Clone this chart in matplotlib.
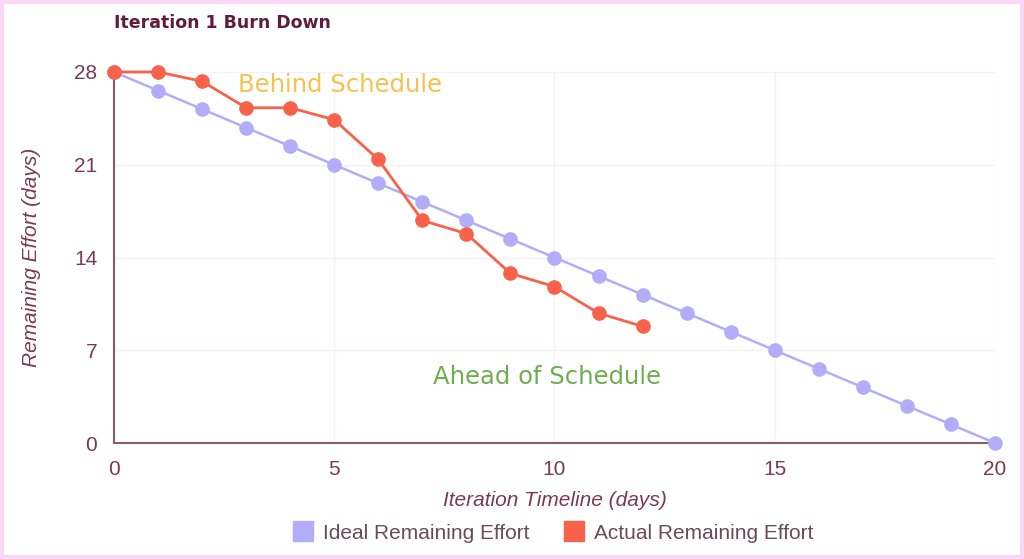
import numpy as np
import matplotlib
matplotlib.use("Agg")
import matplotlib.pyplot as plt
from matplotlib.lines import Line2D
from matplotlib.patches import Rectangle

# data
days = list(range(21))
ideal = [28, 26.6, 25.2, 23.8, 22.4, 21, 19.6, 18.2, 16.8, 15.4, 14,
         12.6, 11.2, 9.8, 8.4, 7, 5.6, 4.2, 2.8, 1.4, 0]
actual_days = list(range(13))
actual = [28, 28, 27.3, 25.3, 25.3, 24.4, 21.4, 16.8, 15.8, 12.8, 11.8, 9.8, 8.8]
yticks = [0, 7, 14, 21, 28]
xticks = [0, 5, 10, 15, 20]

narrow = ['Liberation Sans', 'DejaVu Sans']
axis_col = '#8a5a6e'
text_col = '#7a3a55'
ideal_col = '#b3acf8'
actual_col = '#f8614a'

fig = plt.figure(figsize=(10.24, 5.59), dpi=100)
fig.patch.set_facecolor('white')
fig.patches.append(Rectangle((0.002, 0.003), 0.996, 0.994, transform=fig.transFigure,
                             fill=False, edgecolor='#f8d8f4', linewidth=3))

ax = fig.add_axes([0.1113, 0.2075, 0.8604, 0.6637])
ax.plot(days, ideal, color=ideal_col, lw=1.8, marker='o', ms=9.5, clip_on=False, zorder=3)
ax.plot(actual_days, actual, color=actual_col, lw=2, marker='o', ms=9.5, clip_on=False, zorder=4)

ax.set_xlim(0, 20)
ax.set_ylim(0, 28)
ax.set_xticks(xticks)
ax.set_yticks(yticks)
ax.grid(True, color='#f7f0f7', lw=1)
ax.set_axisbelow(True)
for s in ['top', 'right']:
    ax.spines[s].set_visible(False)
for s in ['left', 'bottom']:
    ax.spines[s].set_color(axis_col)
    ax.spines[s].set_linewidth(1.5)
ax.tick_params(axis='x', length=0, pad=12, colors=text_col, labelsize=15)
ax.tick_params(axis='y', length=0, pad=12, colors=text_col, labelsize=15)
for lab in ax.get_xticklabels() + ax.get_yticklabels():
    lab.set_family(narrow)
    lab.set_color(text_col)

ax.set_xlabel('Iteration Timeline (days)', family=narrow, style='italic', fontsize=15,
              color=text_col, labelpad=9)
ax.set_ylabel('Remaining Effort (days)', family=narrow, style='italic', fontsize=15,
              color=text_col, labelpad=24)

ax.text(5.13, 27.0, 'Behind Schedule', color='#f7c14e', fontsize=17.5, ha='center', va='center')
ax.text(9.83, 5.0, 'Ahead of Schedule', color='#6fae4e', fontsize=17.5, ha='center', va='center')

fig.text(0.111, 0.958, 'Iteration 1 Burn Down', fontsize=12.5, fontweight='bold',
         color='#5e1d3d', ha='left', va='center')

handles = [Line2D([], [], color=ideal_col, marker='s', ls='none', ms=14),
           Line2D([], [], color=actual_col, marker='s', ls='none', ms=14)]
fig.legend(handles, ['Ideal Remaining Effort', 'Actual Remaining Effort'],
           loc='center', bbox_to_anchor=(0.54, 0.046), ncol=2, frameon=False,
           prop={'family': narrow, 'size': 15}, labelcolor='#6b4a5a',
           handletextpad=0.5, columnspacing=1.6, handlelength=1.0)

fig.savefig('out.png', dpi=100, facecolor='white')
